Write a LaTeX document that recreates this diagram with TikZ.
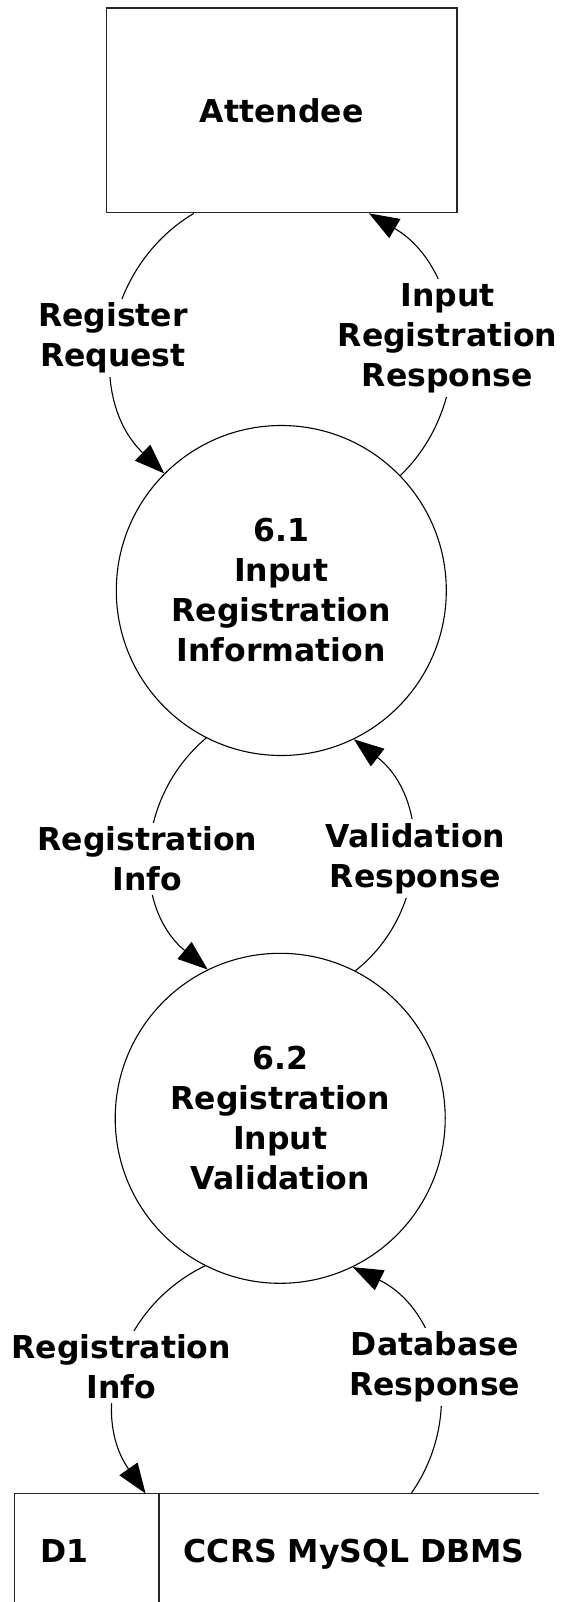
\documentclass[tikz,border=0pt]{standalone}
\usepackage{fontspec}
\setmainfont{DejaVu Sans}
\usetikzlibrary{arrows.meta}
\begin{document}
\begin{tikzpicture}[x=1pt,y=1pt,
  every node/.style={font=\fontsize{31.5}{40}\selectfont\bfseries},
  extbox/.style={draw=black!85, line width=1.7pt, rectangle, minimum width=350.7pt, minimum height=204.2pt, inner sep=0pt},
  proc/.style={draw, line width=1.1pt, circle, minimum size=330pt, inner sep=0pt, align=center},
  flow/.style={draw, line width=1.1pt, -{Triangle[length=30pt,width=22pt]}},
  lbl/.style={fill=white, inner sep=4pt, align=center},
  storeline/.style={draw=black!85, line width=1.6pt}
]
\useasboundingbox (0,0) rectangle (563,-1602);

% entities and processes
\node[extbox] (att) at (281.7,-110.4) {Attendee};
\node[proc] (p1) at (281.3,-590.5) {6.1\\Input\\Registration\\Information};
\node[proc] (p2) at (280.2,-1118.3) {6.2\\Registration\\Input\\Validation};

% data store
\coordinate (stl) at (14.4,-1493.5);
\coordinate (str) at (538.8,-1493.5);
\coordinate (sbl) at (14.4,-1602);
\coordinate (sdt) at (159,-1493.5);
\coordinate (sdb) at (159,-1602);
\draw[storeline] (sbl) -- (stl) -- (str);
\draw[storeline] (sdt) -- (sdb);
\node[anchor=base] (d1) at (64.5,-1562.5) {D1};
\node[anchor=base] (dbms) at (354.2,-1562.5) {CCRS MySQL DBMS};

% free ends on the data store
\coordinate (s5) at (145.6,-1493.5);
\coordinate (s6) at (411.1,-1493.5);

% flows
\draw[flow] ([xshift=-87.8pt]att.south) to[bend right=52.7, looseness=1.06] (p1.135.1);
\draw[flow] (p1.44.9) to[bend right=52.7, looseness=1.06] ([xshift=87.3pt]att.south);
\draw[flow] (p1.243.1) to[bend right=50, looseness=1.06] (p2.116.3);
\draw[flow] (p2.63.4) to[bend right=52, looseness=1.06] (p1.296.7);
\draw[flow] (p2.243.1) to[bend right=49.5, looseness=1.06] (s5);
\draw[flow] (s6) to[bend right=49.5, looseness=1.06] (p2.296.7);

% flow labels
\node[lbl] (l1) at (112.9,-338) {Register\\Request};
\node[lbl] (l2) at (447.5,-338) {Input\\Registration\\Response};
\node[lbl] (l3) at (147.4,-858.7) {Registration\\Info};
\node[lbl] (l4) at (415.5,-858.7) {Validation\\Response};
\node[lbl] (l5) at (121.2,-1367) {Registration\\Info};
\node[lbl] (l6) at (434.8,-1367) {Database\\Response};
\end{tikzpicture}
\end{document}
